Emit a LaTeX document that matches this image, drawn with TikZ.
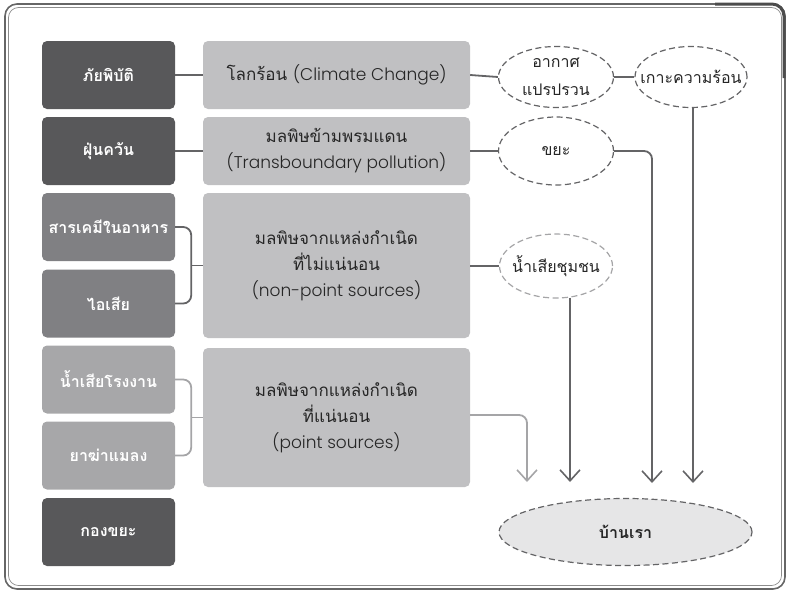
\documentclass[tikz,border=0pt]{standalone}
\usepackage{fontspec}
\setmainfont[Script=Thai]{Loma}
\newfontfamily\lat{Poppins}[UprightFont=* Light]
\usetikzlibrary{arrows.meta,shapes.geometric}
\definecolor{cdark}{RGB}{88,88,90}
\definecolor{cmed}{RGB}{128,128,131}
\definecolor{clight}{RGB}{167,167,169}
\definecolor{cmid}{RGB}{192,192,194}
\definecolor{cline}{RGB}{100,100,102}
\definecolor{clline}{RGB}{165,165,167}
\definecolor{cfill}{RGB}{230,230,231}
\newcommand{\en}[1]{{\lat\fontsize{17}{26}\selectfont #1}}
\begin{document}
\begin{tikzpicture}[x=1pt,y=-1pt,
  leftbox/.style={rectangle,rounded corners=5pt,minimum width=133pt,minimum height=68pt,inner sep=0pt,text=white,font=\fontsize{16}{18}\selectfont\bfseries},
  midbox/.style={rectangle,rounded corners=5pt,fill=cmid,minimum width=267pt,inner sep=0pt,text=black!85,align=center,font=\fontsize{17}{26}\selectfont},
  dashell/.style={ellipse,draw=cline,dashed,dash pattern=on 6pt off 3.5pt,line width=1.2pt,fill=white,inner sep=-30pt,align=center,text=black!85,font=\fontsize{16}{28}\selectfont},
  conn/.style={draw=cline,line width=1.8pt,rounded corners=8pt},
  lconn/.style={draw=clline,line width=1.8pt,rounded corners=8pt},
  arr/.style={-{Straight Barb[length=11pt,width=20pt,line width=1.6pt]}}
]
\useasboundingbox (0,0) rectangle (789,592);
% frame
\draw[draw=black!60,line width=1.6pt,rounded corners=12pt] (5,4) rectangle (785,589);
\draw[draw=black!45,line width=0.7pt,rounded corners=10pt] (8.5,7.5) rectangle (781.5,585.5);
\draw[draw=black!70,line width=3pt,rounded corners=12pt] (715,4) -- (784,4) -- (784,78);
% left boxes
\node[leftbox,fill=cdark] (r1) at (108.5,75) {ภัยพิบัติ};
\node[leftbox,fill=cdark] (r2) at (108.5,151) {ฝุ่นควัน};
\node[leftbox,fill=cmed] (r3) at (108.5,227) {สารเคมีในอาหาร};
\node[leftbox,fill=cmed] (r4) at (108.5,303.5) {ไอเสีย};
\node[leftbox,fill=clight] (r5) at (108.5,379.5) {น้ำเสียโรงงาน};
\node[leftbox,fill=clight] (r6) at (108.5,455.5) {ยาฆ่าแมลง};
\node[leftbox,fill=cdark] (r7) at (108.5,532) {กองขยะ};
% middle boxes
\node[midbox,minimum height=68pt] (m1) at (336.5,75) {โลกร้อน \en{(Climate Change)}};
\node[midbox,minimum height=68pt] (m2) at (336.5,151) {มลพิษข้ามพรมแดน\\\en{(Transboundary pollution)}};
\node[midbox,minimum height=145pt] (m3) at (336.5,265.5) {มลพิษจากแหล่งกำเนิด\\ที่ไม่แน่นอน\\\en{(non-point sources)}};
\node[midbox,minimum height=139pt] (m4) at (336.5,417.5) {มลพิษจากแหล่งกำเนิด\\ที่แน่นอน\\\en{(point sources)}};
% ellipses
\node[dashell,minimum width=115pt,minimum height=61pt] (e1) at (556,77) {อากาศ\\แปรปรวน};
\node[dashell,minimum width=112pt,minimum height=61pt] (e2) at (691,77) {เกาะความร้อน};
\node[dashell,minimum width=115pt,minimum height=68pt] (e3) at (556,151) {ขยะ};
\node[dashell,draw=clline,minimum width=113pt,minimum height=64pt] (e4) at (556,266) {น้ำเสียชุมชน};
\node[dashell,fill=cfill,minimum width=253pt,minimum height=67pt,font=\fontsize{16}{18}\selectfont\bfseries] (e5) at (625.5,532) {บ้านเรา};
% arrow end points
\coordinate (tgray) at (527,482);
\coordinate (tcomm) at (570,482);
\coordinate (twaste) at (652,483);
\coordinate (theat) at (693,483);
% connectors
\draw[conn] (r1.east) -- (m1.west);
\draw[conn] (r2.east) -- (m2.west);
\draw[conn] (m1.east) -- (e1.west);
\draw[conn] (e1.east) -- (e2.west);
\draw[conn] (m2.east) -- (e3.west);
\draw[conn] (m3.east |- e4.west) -- (e4.west);
\draw[conn] (r3.east) -- ++(16,0) |- (r4.east);
\draw[conn,rounded corners=0pt] (m3.west) -- ++(-12,0);
\draw[lconn] (r5.east) -- ++(16,0) |- (r6.east);
\draw[lconn,rounded corners=0pt] (m4.west) -- ++(-12,0);
\draw[conn,arr] (e3.east) -| (twaste);
\draw[conn,arr] (theat |- e2.south) -- (theat);
\draw[conn,arr] (tcomm |- e4.-66) -- (tcomm);
\draw[lconn,arr] (m4.east |- 0,415) -| (tgray);
\end{tikzpicture}
\end{document}
